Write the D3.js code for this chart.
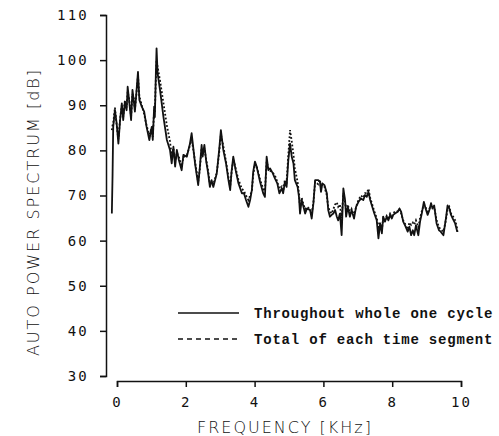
<!DOCTYPE html>
<html>
<head>
<meta charset="utf-8">
<script src="https://cdn.jsdelivr.net/npm/d3@7"></script>
<style>
  html, body { margin: 0; padding: 0; background: #fff; }
  svg { display: block; }
  .tick text { font-family: "DejaVu Sans Mono", monospace; font-size: 14px; letter-spacing: 2.2px; fill: #111; }
  .axis path, .axis line { stroke: #111; stroke-width: 1.5; }
  .title { font-family: "DejaVu Sans", sans-serif; font-size: 16px; font-weight: 300; fill: #111; letter-spacing: 2px; }
  .legend text { font-family: "Liberation Mono", monospace; font-size: 14px; font-weight: bold; fill: #111; letter-spacing: 0.8px; }
</style>
</head>
<body>
<svg id="chart" width="499" height="436"></svg>
<script>
// Frequency samples (kHz)
const freq = [-0.15,-0.13,-0.11,-0.06,-0.01,0.04,0.09,0.14,0.18,0.23,0.28,0.31,0.35,0.41,0.45,0.49,0.52,0.57,0.61,0.65,
  0.72,0.79,0.86,0.94,1.01,1.04,1.08,1.10,1.13,1.15,1.18,1.25,1.35,1.45,1.54,1.59,1.64,1.69,1.74,1.80,
  1.88,1.93,2.03,2.12,2.17,2.27,2.36,2.41,2.46,2.49,2.54,2.59,2.65,2.70,2.75,2.80,2.90,2.97,3.02,3.09,
  3.17,3.24,3.29,3.33,3.38,3.45,3.53,3.63,3.69,3.75,3.82,3.87,3.92,3.96,4.01,4.06,4.16,4.25,4.30,4.35,
  4.40,4.45,4.53,4.59,4.66,4.72,4.79,4.83,4.88,4.93,4.98,5.03,5.08,5.13,5.17,5.25,5.29,5.32,5.37,5.42,
  5.47,5.52,5.61,5.66,5.71,5.76,5.85,5.90,5.93,5.97,6.03,6.10,6.14,6.19,6.24,6.29,6.34,6.39,6.43,6.48,
  6.53,6.58,6.63,6.66,6.71,6.77,6.82,6.89,6.95,7.02,7.09,7.16,7.21,7.26,7.31,7.36,7.42,7.48,7.55,7.60,
  7.65,7.70,7.74,7.79,7.84,7.89,7.94,7.99,8.03,8.08,8.16,8.21,8.26,8.32,8.39,8.45,8.50,8.55,8.60,8.64,
  8.69,8.76,8.81,8.86,8.92,8.97,9.03,9.08,9.13,9.17,9.22,9.29,9.36,9.41,9.49,9.56,9.61,9.66,9.71,9.76,
  9.83,9.88,9.90];

// Throughout whole one cycle (dB)
const wholeCycle = [66.0,74.1,85.2,88.9,86.0,81.5,86.7,90.4,86.7,90.8,88.9,94.1,91.2,86.7,93.4,90.8,88.6,93.4,97.4,91.2,
  89.7,88.6,85.2,82.3,85.2,82.3,89.7,87.4,97.1,102.6,97.1,93.4,87.4,82.3,80.1,77.1,80.8,76.4,80.1,77.8,
  75.6,79.0,78.6,81.5,83.8,77.0,72.3,76.4,81.2,78.6,81.2,77.8,74.9,71.9,73.4,71.9,74.9,80.1,84.5,80.1,
  77.1,73.4,71.2,75.3,78.6,75.6,72.7,70.5,70.5,69.0,67.5,69.0,71.2,75.3,77.5,76.4,73.0,70.5,69.7,78.6,
  75.6,76.0,74.9,73.8,72.7,70.5,71.6,70.5,73.0,71.9,77.8,81.5,78.6,77.1,73.4,71.9,69.7,66.0,69.0,67.5,
  66.0,67.1,66.8,64.9,68.3,73.4,73.4,73.0,70.8,72.7,72.3,70.5,66.8,65.3,65.7,66.0,66.8,65.3,64.5,66.0,
  61.2,71.6,69.0,65.3,67.5,65.3,66.8,64.9,67.5,68.6,69.3,69.0,70.1,69.7,70.8,69.0,67.5,66.0,64.5,60.5,
  63.8,61.6,65.3,64.2,65.3,64.5,65.7,64.9,65.7,66.0,66.4,67.1,66.4,64.2,63.1,62.0,63.1,61.2,62.3,61.2,
  63.4,61.2,64.2,66.0,68.6,67.1,65.7,66.8,68.3,67.1,67.8,63.8,62.3,62.0,61.2,64.9,67.8,67.1,65.7,64.9,
  63.8,62.3,62.0];

// Total of each time segment (dB)
const segmentTotal = [84.5,85.5,86.0,89.5,85.5,82.5,87.0,90.0,87.5,91.0,89.5,93.0,91.5,87.5,92.5,91.5,89.0,93.0,96.5,92.0,
  90.0,88.0,85.5,83.5,85.0,83.0,89.0,88.5,96.0,100.0,98.5,95.5,90.5,85.5,82.0,79.0,80.5,77.5,79.5,78.5,
  76.5,78.5,79.0,81.0,82.5,77.5,73.0,76.0,80.5,79.0,80.5,78.0,75.5,72.5,73.0,72.5,75.0,79.5,83.5,81.0,
  77.5,74.0,72.0,75.0,78.0,76.0,73.5,71.5,71.0,70.0,69.0,70.0,71.0,74.5,77.0,76.5,73.5,71.5,71.0,77.5,
  76.0,75.5,75.0,74.5,73.0,71.5,72.0,71.0,73.5,73.0,79.0,84.5,82.0,79.0,76.0,73.0,70.5,67.5,69.5,68.0,
  67.0,67.5,67.0,66.0,68.5,73.0,72.5,73.5,71.5,72.5,72.0,70.0,67.5,66.5,66.0,67.0,68.0,68.5,67.5,68.0,
  65.0,70.5,68.5,66.5,68.0,66.0,67.0,65.5,67.5,69.0,70.0,69.5,70.5,70.5,71.5,69.5,68.0,66.5,65.0,63.0,
  64.0,62.5,65.0,64.5,65.5,65.0,66.0,65.5,66.0,66.5,66.5,67.0,66.0,64.5,63.5,62.5,64.0,63.5,64.0,63.5,
  64.5,63.0,65.0,66.5,68.0,67.5,66.0,67.0,68.0,67.5,67.5,64.5,63.0,62.5,62.0,64.5,67.0,67.5,66.0,65.5,
  64.5,63.0,61.5];

const yTicks = [30, 40, 50, 60, 70, 80, 90, 100, 110];
const xTicks = [0, 2, 4, 6, 8, 10];
const seriesNames = ["Throughout whole one cycle", "Total of each time segment"];

const svg = d3.select("#chart");

const x = d3.scaleLinear().domain([0, 10]).range([117, 461]);
const y = d3.scaleLinear().domain([30, 110]).range([376, 15]);

// Vertical axis
svg.append("g")
  .attr("class", "axis")
  .attr("transform", "translate(106,0)")
  .call(d3.axisLeft(y).tickValues(yTicks).tickSize(6).tickPadding(11).tickFormat(d3.format("d")));

// Horizontal axis, set slightly below the 30 dB line
svg.append("g")
  .attr("class", "axis")
  .attr("transform", "translate(0,381)")
  .call(d3.axisBottom(x).tickValues(xTicks).tickSize(6).tickPadding(10).tickFormat(d3.format("d")));

// Axis titles
svg.append("text")
  .attr("class", "title")
  .attr("x", 285).attr("y", 433)
  .attr("text-anchor", "middle")
  .text("FREQUENCY [KHz]");

svg.append("text")
  .attr("class", "title")
  .attr("transform", "translate(39,212) rotate(-90)")
  .attr("text-anchor", "middle")
  .text("AUTO POWER SPECTRUM [dB]");

// Spectrum curves
const line = d3.line()
  .x((d, i) => x(freq[i]))
  .y(d => y(d));

svg.append("path")
  .datum(segmentTotal)
  .attr("fill", "none")
  .attr("stroke", "#111")
  .attr("stroke-width", 1.8)
  .attr("stroke-dasharray", "1.8,2")
  .attr("d", line);

svg.append("path")
  .datum(wholeCycle)
  .attr("fill", "none")
  .attr("stroke", "#111")
  .attr("stroke-width", 1.8)
  .attr("stroke-linejoin", "round")
  .attr("d", line);

// Legend
const legend = svg.append("g").attr("class", "legend");
const legendRows = [
  { name: seriesNames[0], dash: null, y: 313 },
  { name: seriesNames[1], dash: "5,4", y: 339 }
];
legendRows.forEach(r => {
  legend.append("line")
    .attr("x1", 178).attr("x2", 239)
    .attr("y1", r.y).attr("y2", r.y)
    .attr("stroke", "#111")
    .attr("stroke-width", 1.5)
    .attr("stroke-dasharray", r.dash);
  legend.append("text")
    .attr("x", 254).attr("y", r.y + 5)
    .text(r.name);
});
</script>
</body>
</html>
